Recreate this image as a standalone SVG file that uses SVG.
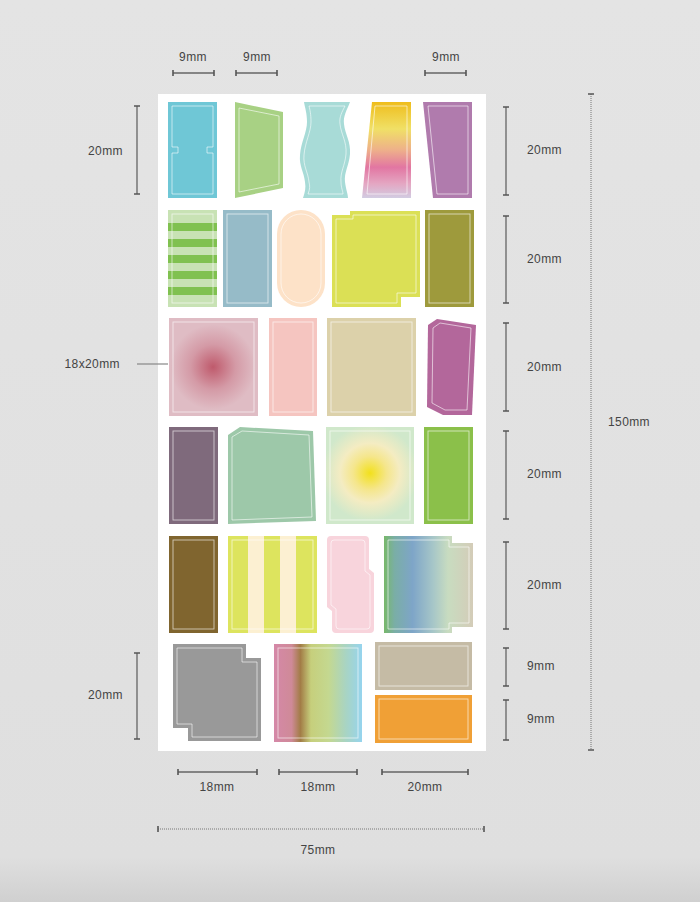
<svg xmlns="http://www.w3.org/2000/svg" width="700" height="902" viewBox="0 0 700 902">
<defs>
<linearGradient id="bg" x1="0" y1="0" x2="0" y2="1">
<stop offset="0" stop-color="#e4e4e4"/><stop offset="0.95" stop-color="#dfdfdf"/><stop offset="1" stop-color="#d0d0d0"/>
</linearGradient>
<linearGradient id="g4" x1="0" y1="0" x2="0" y2="1">
<stop offset="0" stop-color="#efbd1c"/><stop offset="0.28" stop-color="#f0e066"/><stop offset="0.5" stop-color="#eeb08a"/><stop offset="0.68" stop-color="#e276a2"/><stop offset="0.85" stop-color="#e4a6c2"/><stop offset="1" stop-color="#d2cce2"/>
</linearGradient>
<radialGradient id="rPink" cx="213" cy="367" r="50" gradientUnits="userSpaceOnUse">
<stop offset="0" stop-color="#bf5a6c"/><stop offset="0.45" stop-color="#d49aa6"/><stop offset="0.85" stop-color="#dfbcc4"/><stop offset="1" stop-color="#dfbcc4"/>
</radialGradient>
<radialGradient id="rYel" cx="370" cy="473" r="48" gradientUnits="userSpaceOnUse">
<stop offset="0" stop-color="#f2e01c"/><stop offset="0.35" stop-color="#f5e68c"/><stop offset="0.62" stop-color="#f4ecc2"/><stop offset="1" stop-color="#d0e8cb"/>
</radialGradient>
<linearGradient id="gBlue" x1="384" y1="0" x2="473" y2="0" gradientUnits="userSpaceOnUse">
<stop offset="0" stop-color="#78b86a"/><stop offset="0.12" stop-color="#7aaea6"/><stop offset="0.32" stop-color="#7ea5c8"/><stop offset="0.55" stop-color="#a6c6c8"/><stop offset="0.72" stop-color="#c8dcc0"/><stop offset="1" stop-color="#d4ccb8"/>
</linearGradient>
<linearGradient id="gRain" x1="274" y1="0" x2="362" y2="0" gradientUnits="userSpaceOnUse">
<stop offset="0" stop-color="#d588a8"/><stop offset="0.2" stop-color="#cf8a98"/><stop offset="0.3" stop-color="#a27c46"/><stop offset="0.42" stop-color="#c6cf7c"/><stop offset="0.62" stop-color="#c4d890"/><stop offset="0.82" stop-color="#a8d4c4"/><stop offset="1" stop-color="#96d4ee"/>
</linearGradient>
</defs>
<style>
.in{fill:none;stroke:#ffffff;stroke-opacity:0.65;stroke-width:0.9}
.dl{stroke:#666;stroke-width:1.3;fill:none}
.dt{stroke:#555;stroke-width:1.6;fill:none}
.dot{stroke:#777;stroke-width:1;stroke-dasharray:1 1;fill:none}
.t{font-family:"Liberation Sans",Arial,sans-serif;font-size:12px;fill:#444;letter-spacing:0.4px}
</style>
<rect x="0" y="0" width="700" height="902" fill="url(#bg)"/>
<rect id="sheet" x="158" y="94" width="328" height="657" fill="#ffffff"/>

<!-- Row 1 -->
<g id="s1">
<rect x="168" y="102" width="49" height="96" fill="#6fc7d6"/>
<path class="in" d="M172,106 H213 V147 H207 V153 H213 V194 H172 V153 H178 V147 H172 Z"/>
</g>
<g id="s2">
<polygon points="235,102 283,112 283,188 235,198" fill="#a8d184"/>
<polygon class="in" points="239,108 279,116 279,184 239,192"/>
</g>
<g id="s3">
<path d="M304,102 H350 C347,110 343,116 344,124 C345,134 351,142 350,154 C349,166 344,172 345,182 C346,190 348,194 348,198 H303 C305,192 306,188 305,182 C304,172 299,166 300,155 C301,142 307,132 307,122 C307,113 305,108 304,102 Z" fill="#a8dbd7"/>
<path class="in" d="M309,106 H345 C342,112 339,117 340,124 C341,134 347,142 346,154 C345,166 340,172 341,182 C341,188 343,191 343,194 H308 C310,189 310,186 309,182 C308,172 303,166 304,155 C305,142 311,132 311,122 C311,114 310,110 309,106 Z"/>
</g>
<g id="s4">
<polygon points="372,102 411,102 411,198 362,198" fill="url(#g4)"/>
<polygon class="in" points="375,106 407,106 407,194 367,194"/>
</g>
<g id="s5">
<polygon points="423,102 472,102 472,198 433,198" fill="#b07bad"/>
<polygon class="in" points="428,106 468,106 468,194 437,194"/>
</g>

<!-- Row 2 -->
<g id="s6">
<rect x="168" y="210" width="49" height="97" fill="#c8e2b4"/>
<rect x="168" y="223" width="49" height="8" fill="#80c150"/>
<rect x="168" y="239" width="49" height="8" fill="#80c150"/>
<rect x="168" y="255" width="49" height="8" fill="#80c150"/>
<rect x="168" y="271" width="49" height="8" fill="#80c150"/>
<rect x="168" y="287" width="49" height="8" fill="#80c150"/>
<rect class="in" x="172" y="214" width="41" height="89"/>
</g>
<g id="s7">
<rect x="223" y="210" width="49" height="97" fill="#96bbc8"/>
<rect class="in" x="227" y="214" width="41" height="89"/>
</g>
<g id="s8">
<rect x="277" y="210" width="48" height="97" rx="24" fill="#fde2c8"/>
<rect class="in" x="281" y="214" width="40" height="89" rx="20"/>
</g>
<g id="s9">
<path d="M332,215 H350 V211 H420 V297 H401 V307 H332 Z" fill="#dbe055"/>
<path class="in" d="M336,219 H353 V215 H416 V293 H397 V303 H336 Z"/>
</g>
<g id="s10">
<rect x="425" y="210" width="49" height="97" fill="#9e9a3c"/>
<rect class="in" x="429" y="214" width="41" height="89"/>
</g>

<!-- Row 3 -->
<g id="s11">
<rect x="169" y="318" width="89" height="98" fill="url(#rPink)"/>
<rect class="in" x="173" y="322" width="81" height="90"/>
</g>
<g id="s12">
<rect x="269" y="318" width="48" height="98" fill="#f5c5c0"/>
<rect class="in" x="273" y="322" width="40" height="90"/>
</g>
<g id="s13">
<rect x="327" y="318" width="89" height="98" fill="#dcd1aa"/>
<rect class="in" x="331" y="322" width="81" height="90"/>
</g>
<g id="s14">
<polygon points="428,325 437,319 476,325 472,415 443,415 427,407" fill="#b3679b"/>
<polygon class="in" points="433,328 440,323 471,328 467,410 445,410 432,403"/>
</g>

<!-- Row 4 -->
<g id="s15">
<rect x="169" y="427" width="49" height="97" fill="#7f6a7c"/>
<rect class="in" x="173" y="431" width="41" height="89"/>
</g>
<g id="s16">
<polygon points="228,435 240,427 313,431 316,521 228,524" fill="#9dc8a9"/>
<polygon class="in" points="232,437 242,431 309,435 312,517 232,520"/>
</g>
<g id="s17">
<rect x="326" y="427" width="88" height="97" fill="url(#rYel)"/>
<rect class="in" x="330" y="431" width="80" height="89"/>
</g>
<g id="s18">
<rect x="424" y="427" width="49" height="97" fill="#8bc04a"/>
<rect class="in" x="428" y="431" width="41" height="89"/>
</g>

<!-- Row 5 -->
<g id="s19">
<rect x="169" y="536" width="49" height="97" fill="#80652f"/>
<rect class="in" x="173" y="540" width="41" height="89"/>
</g>
<g id="s20">
<rect x="228" y="536" width="89" height="97" fill="#dde45e"/>
<rect x="248" y="536" width="16" height="97" fill="#fcf0d2"/>
<rect x="280" y="536" width="16" height="97" fill="#fcf0d2"/>
<rect class="in" x="232" y="540" width="81" height="89"/>
</g>
<g id="s21">
<path d="M331,536 H365 Q369,536 369,540 V569 L374,573 V629 Q374,633 370,633 H336 Q332,633 332,629 V611 L327,607 V540 Q327,536 331,536 Z" fill="#f8d4dc"/>
<path class="in" d="M334,540 H362 Q365,540 365,543 V571 L370,575 V626 Q370,629 367,629 H339 Q336,629 336,626 V609 L331,605 V543 Q331,540 334,540 Z"/>
</g>
<g id="s22">
<path d="M384,536 H452 V543 H473 V627 H452 V633 H384 Z" fill="url(#gBlue)"/>
<path class="in" d="M388,540 H449 V547 H469 V623 H449 V629 H388 Z"/>
</g>

<!-- Row 6 -->
<g id="s23">
<path d="M173,644 H246 V658 H261 V741 H188 V728 H173 Z" fill="#999999"/>
<path class="in" d="M177,648 H242 V662 H257 V737 H192 V724 H177 Z"/>
</g>
<g id="s24">
<rect x="274" y="644" width="88" height="98" fill="url(#gRain)"/>
<rect class="in" x="278" y="648" width="80" height="90"/>
</g>
<g id="s25">
<rect x="375" y="642" width="97" height="48" fill="#c5bba5"/>
<rect class="in" x="379" y="646" width="89" height="40"/>
</g>
<g id="s26">
<rect x="375" y="695" width="97" height="48" fill="#f0a036"/>
<rect class="in" x="379" y="699" width="89" height="40"/>
</g>

<!-- Dimension lines -->
<g id="dims">
<path class="dl" d="M173,73 H214 M236,73 H277 M425,73 H466"/>
<path class="dt" d="M173,70 V76 M214,70 V76 M236,70 V76 M277,70 V76 M425,70 V76 M466,70 V76"/>
<path class="dl" d="M137,106 V194 M137,653 V739"/>
<path class="dt" d="M134,106 H140 M134,194 H140 M134,653 H140 M134,739 H140"/>
<path d="M137,364 H168" stroke="#888" stroke-width="1.2"/>
<path class="dl" d="M506,107 V195 M506,216 V303 M506,323 V411 M506,431 V519 M506,542 V629 M506,648 V686 M506,700 V740"/>
<path class="dt" d="M503,107 H509 M503,195 H509 M503,216 H509 M503,303 H509 M503,323 H509 M503,411 H509 M503,431 H509 M503,519 H509 M503,542 H509 M503,629 H509 M503,648 H509 M503,686 H509 M503,700 H509 M503,740 H509"/>
<path class="dot" d="M591,94 V750"/>
<path class="dt" d="M588,94 H594 M588,750 H594"/>
<path class="dl" d="M178,772 H257 M279,772 H357 M382,772 H468"/>
<path class="dt" d="M178,769 V775 M257,769 V775 M279,769 V775 M357,769 V775 M382,769 V775 M468,769 V775"/>
<path class="dot" d="M158,829 H484"/>
<path class="dt" d="M158,826 V832 M484,826 V832"/>
</g>

<g id="labels">
<text class="t" x="193" y="61" text-anchor="middle">9mm</text>
<text class="t" x="257" y="61" text-anchor="middle">9mm</text>
<text class="t" x="446" y="61" text-anchor="middle">9mm</text>
<text class="t" x="123" y="155" text-anchor="end">20mm</text>
<text class="t" x="120" y="368" text-anchor="end">18x20mm</text>
<text class="t" x="123" y="699" text-anchor="end">20mm</text>
<text class="t" x="527" y="154">20mm</text>
<text class="t" x="527" y="263">20mm</text>
<text class="t" x="527" y="371">20mm</text>
<text class="t" x="527" y="478">20mm</text>
<text class="t" x="527" y="589">20mm</text>
<text class="t" x="527" y="670">9mm</text>
<text class="t" x="527" y="723">9mm</text>
<text class="t" x="608" y="426">150mm</text>
<text class="t" x="217" y="791" text-anchor="middle">18mm</text>
<text class="t" x="318" y="791" text-anchor="middle">18mm</text>
<text class="t" x="425" y="791" text-anchor="middle">20mm</text>
<text class="t" x="318" y="854" text-anchor="middle">75mm</text>
</g>
</svg>
